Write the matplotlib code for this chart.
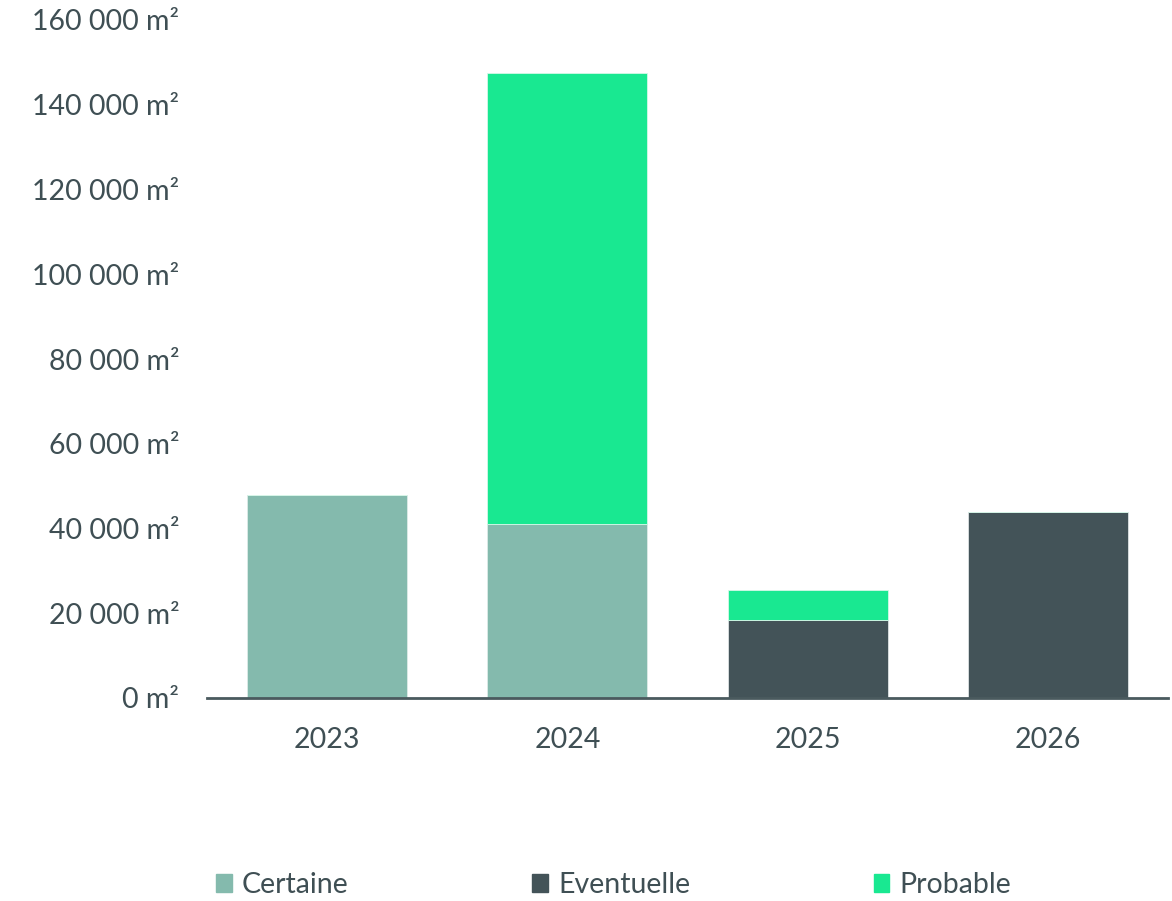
import matplotlib
matplotlib.use("Agg")
import matplotlib.pyplot as plt
from matplotlib.patches import Patch
from matplotlib.ticker import FuncFormatter
import numpy as np

years = ["2023", "2024", "2025", "2026"]
certaine = [48000, 41000, 0, 0]
eventuelle = [0, 0, 18300, 43900]
probable = [0, 106500, 7300, 0]

c_certaine = "#84BAAD"
c_eventuelle = "#435358"
c_probable = "#19E891"
text_color = "#3F4F54"

plt.rcParams["font.family"] = ["Lato", "DejaVu Sans"]

fig = plt.figure(figsize=(11.72, 9.01), dpi=100)
ax = fig.add_axes([207 / 1172, (901 - 698) / 901, (1168 - 207) / 1172, (698 - 20) / 901])

x = np.arange(len(years))
w = 0.667
cert = np.array(certaine)
even = np.array(eventuelle)
prob = np.array(probable)

ax.bar(x, cert, w, color=c_certaine, edgecolor="#DDEBE7", linewidth=0.6)
ax.bar(x, even, w, bottom=cert, color=c_eventuelle, edgecolor="#DDE3E4", linewidth=0.6)
ax.bar(x, prob, w, bottom=cert + even, color=c_probable, edgecolor="#D5F8E8", linewidth=0.6)

ax.set_xlim(-0.5, len(years) - 0.5)
ax.set_ylim(0, 160000)
ax.set_yticks(np.arange(0, 160001, 20000))
ax.yaxis.set_major_formatter(FuncFormatter(lambda v, p: f"{int(v):,}".replace(",", " ") + " m²"))
ax.set_xticks(x)
ax.set_xticklabels(years)

for s in ["top", "right", "left"]:
    ax.spines[s].set_visible(False)
ax.spines["bottom"].set_color("#4A5A5E")
ax.spines["bottom"].set_linewidth(2)
ax.tick_params(axis="both", length=0, labelsize=20.5, colors=text_color)
ax.tick_params(axis="y", pad=20)
ax.tick_params(axis="x", pad=21)

handles = [Patch(color=c_certaine), Patch(color=c_eventuelle), Patch(color=c_probable)]
fig.legend(handles, ["Certaine", "Eventuelle", "Probable"], loc="center left",
           bbox_to_anchor=(205 / 1172, 1 - 885 / 901), ncol=3, frameon=False,
           fontsize=20.5, labelcolor=text_color, handlelength=0.55, handleheight=0.55,
           handletextpad=0.35, columnspacing=6.45, borderaxespad=0)

fig.savefig("out.png", dpi=100, facecolor="white")
